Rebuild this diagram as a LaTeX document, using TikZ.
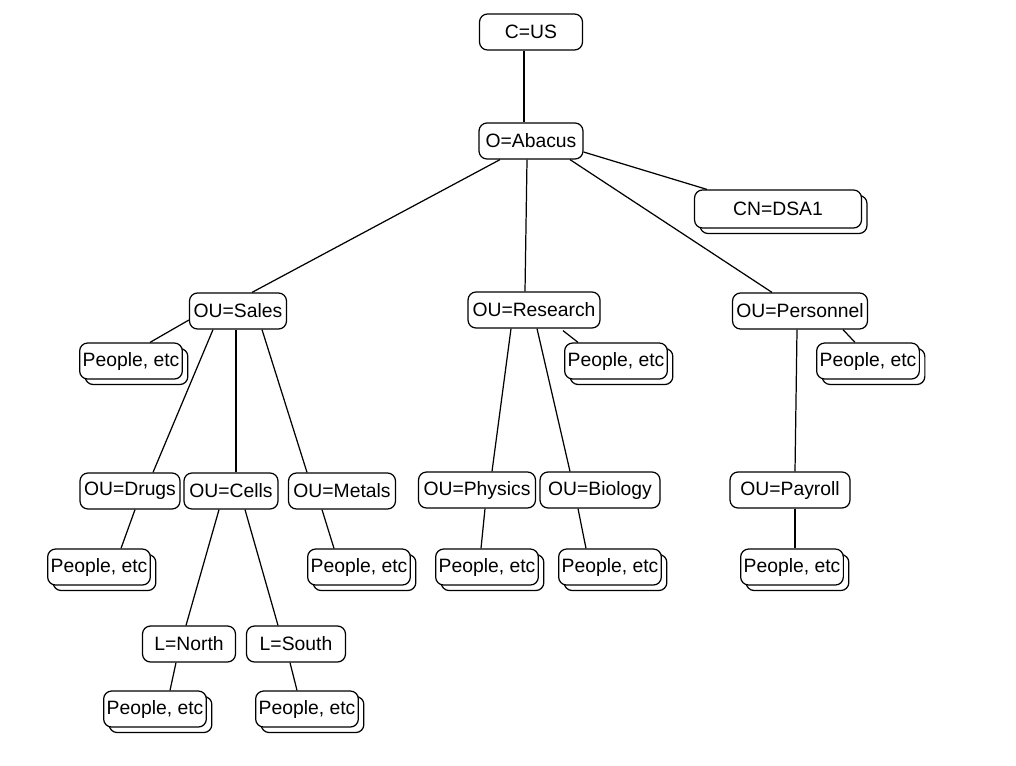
\documentclass[tikz,border=0pt]{standalone}
\usepackage{fontspec}
\setmainfont{Liberation Sans}
\usepackage{tikz}
\usetikzlibrary{calc,shadows}

\begin{document}
\begin{tikzpicture}[
    x=0.02cm, y=-0.02cm,
    entry/.style={rectangle, draw, rounded corners=0.16cm, fill=white, line width=0.7pt, minimum height=0.72cm, inner xsep=0.06cm, font=\fontsize{11}{13}\selectfont},
    people/.style={entry, minimum width=2.04cm, copy shadow={shadow xshift=0.11cm, shadow yshift=-0.11cm, draw=black, fill=white, line width=0.7pt}},
    link/.style={line width=0.7pt}
]
    \useasboundingbox (0,0) rectangle (1016,765);

    % top of the tree
    \node[entry, minimum width=2.06cm] (us) at (531,32) {C=US};
    \node[entry, minimum width=2.08cm] (abacus) at (531,141) {O=Abacus};
    \node[people, minimum width=3.34cm, minimum height=0.76cm] (dsa) at (778,209) {CN=DSA1};

    % organisational units
    \node[entry, minimum width=1.94cm] (sales) at (238,311) {OU=Sales};
    \node[entry, minimum width=2.64cm] (research) at (534,310) {OU=Research};
    \node[entry, minimum width=2.70cm] (personnel) at (800,311) {OU=Personnel};
    \node[people] (psales) at (131,361) {People, etc};
    \node[people] (presearch) at (616,361) {People, etc};
    \node[people] (ppersonnel) at (868,361) {People, etc};

    \node[entry, minimum width=2.00cm] (drugs) at (130,491) {OU=Drugs};
    \node[entry, minimum width=1.88cm] (cells) at (231,491) {OU=Cells};
    \node[entry, minimum width=2.14cm] (metals) at (342,491) {OU=Metals};
    \node[entry, minimum width=2.34cm] (physics) at (477,490) {OU=Physics};
    \node[entry, minimum width=2.40cm] (biology) at (600,490) {OU=Biology};
    \node[entry, minimum width=2.40cm] (payroll) at (790,490) {OU=Payroll};

    \node[people] (pdrugs) at (99,567) {People, etc};
    \node[people] (pmetals) at (359,567) {People, etc};
    \node[people] (pphysics) at (487,567) {People, etc};
    \node[people] (pbiology) at (610,567) {People, etc};
    \node[people] (ppayroll) at (792,567) {People, etc};

    % localities
    \node[entry, minimum width=1.86cm] (north) at (189,644) {L=North};
    \node[entry, minimum width=1.98cm] (south) at (296,644) {L=South};
    \node[people] (pnorth) at (155,709) {People, etc};
    \node[people] (psouth) at (307,709) {People, etc};

    % links
    \draw[link] ($(us.south)+(-7,0)$) -- ($(abacus.north)+(-7,0)$);
    \draw[link] ($(abacus.south)+(-31,0)$) -- ($(sales.north)+(14,0)$);
    \draw[link] ($(abacus.south)+(-4,0)$) -- ($(research.north)+(-9,0)$);
    \draw[link] ($(abacus.south)+(39,0)$) -- ($(personnel.north)+(-28,0)$);
    \draw[link] ($(abacus.east)+(0,11)$) -- ($(dsa.north west)+(13,0)$);

    \draw[link] ($(sales.west)+(0,9)$) -- ($(psales.north)+(19,0)$);
    \draw[link] ($(sales.south)+(-25,0)$) -- ($(drugs.north)+(23,0)$);
    \draw[link] ($(sales.south)+(-2,0)$) -- ($(cells.north)+(5,0)$);
    \draw[link] ($(sales.south)+(24,0)$) -- ($(metals.north)+(-35,0)$);

    \draw[link] ($(research.south)+(-23,0)$) -- ($(physics.north)+(15,0)$);
    \draw[link] ($(research.south)+(3,0)$) -- ($(biology.north)+(-30,0)$);
    \draw[link] ($(research.south)+(29,2)$) -- ($(presearch.north)+(-38,0)$);

    \draw[link] ($(personnel.south)+(43,0)$) -- ($(ppersonnel.north)+(-13,0)$);
    \draw[link] ($(personnel.south)+(-3,0)$) -- ($(payroll.north)+(5,0)$);

    \draw[link] ($(drugs.south)+(5,0)$) -- ($(pdrugs.north)+(22,0)$);
    \draw[link] ($(cells.south)+(-12,0)$) -- ($(north.north)+(-3,0)$);
    \draw[link] ($(cells.south)+(14,0)$) -- ($(south.north)+(-18,0)$);
    \draw[link] ($(metals.south)+(-20,0)$) -- ($(pmetals.north)+(-25,0)$);
    \draw[link] ($(physics.south)+(8,0)$) -- ($(pphysics.north)+(-6,0)$);
    \draw[link] ($(biology.south)+(-22,0)$) -- ($(pbiology.north)+(-24,0)$);
    \draw[link] ($(payroll.south)+(5,0)$) -- ($(ppayroll.north)+(3,0)$);

    \draw[link] ($(north.south)+(-13,0)$) -- ($(pnorth.north)+(15,0)$);
    \draw[link] ($(south.south)+(-6,0)$) -- ($(psouth.north)+(-10,0)$);
\end{tikzpicture}
\end{document}
